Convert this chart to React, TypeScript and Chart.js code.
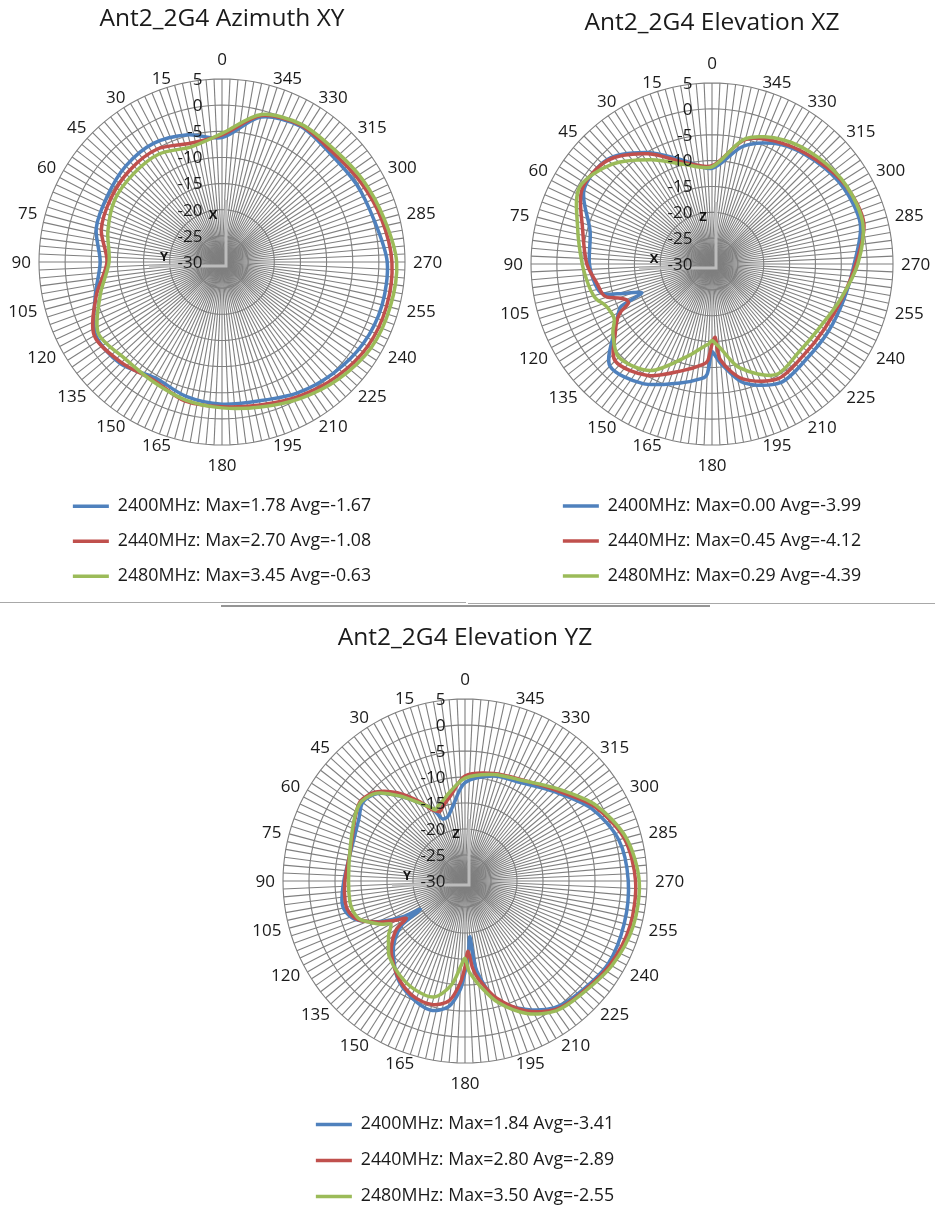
import React, { useEffect, useRef } from 'react';
import { Chart, registerables } from 'chart.js';

Chart.register(...registerables);

const FONT = "'Open Sans', 'DejaVu Sans', sans-serif";
const TEXT = '#1a1a1a';
const GRID = '#7f7f7f';
const COLORS = ['#4F81BD', '#C0504D', '#9BBB59'];

const SERIES_NAMES = ['2400MHz', '2440MHz', '2480MHz'];
const TICK_VALUES = [-30, -25, -20, -15, -10, -5, 0, 5];
const SPOKE_STEP = 2.5;
const SPOKE_COUNT = 144;
const LABEL_STEP = 15;
// spokes in clockwise screen order; angles increase counter-clockwise
const SPOKE_LABELS = Array.from({ length: SPOKE_COUNT }, (_, i) => String((360 - i * SPOKE_STEP) % 360));

// ---------- Azimuth XY ----------
const xyAngles = [0, 15, 30, 45, 60, 75, 90, 105, 120, 135, 150, 165, 180, 195, 210, 225, 240, 255, 270, 285, 300, 315, 330, 345];
const xy2400 = [-6.2, -4.8, -3.8, -4.0, -4.7, -5.1, -6.7, -4.9, -2.1, -2.5, -4.4, -3.4, -2.8, -2.5, -1.1, 0.1, 1.2, 1.7, 1.6, 0.2, -0.3, -0.7, 0.0, -1.3];
const xy2440 = [-5.7, -6.5, -5.1, -5.1, -5.5, -6.1, -8.0, -5.1, -1.8, -2.8, -3.9, -2.5, -2.3, -1.7, -0.4, 1.0, 2.2, 2.6, 2.5, 1.6, 0.6, -0.2, 0.2, -1.0];
const xy2480 = [-5.4, -7.2, -6.1, -6.1, -6.3, -7.4, -8.4, -5.9, -2.7, -3.8, -3.6, -2.7, -2.1, -1.3, 0.1, 1.6, 2.9, 3.3, 3.4, 2.1, 1.2, 0.4, 0.4, -0.8];
const xyMax = [1.78, 2.7, 3.45];
const xyAvg = [-1.67, -1.08, -0.63];

// ---------- Elevation XZ ----------
const xzAngles = [0, 15, 30, 45, 60, 75, 90, 100, 105, 107.5, 110, 112.5, 115, 117.5, 120, 125, 135, 150, 165, 175, 177.5, 180, 182.5, 185, 195, 210, 225, 240, 255, 270, 285, 300, 315, 330, 345];
const xz2400 = [-11.5, -9.3, -5.1, -1.4, -1.4, -5.6, -6.3, -7.1, -8.0, -10.8, -13.9, -15.3, -10.6, -9.6, -8.8, -6.8, -2.1, -3.3, -6.2, -7.8, -8.7, -13.0, -12.0, -10.7, -6.2, -3.5, -4.1, -4.0, -3.6, -2.5, -0.3, -0.6, -1.8, -3.3, -6.4];
const xz2440 = [-11.0, -9.7, -5.4, -1.6, -1.0, -4.1, -5.8, -7.5, -8.0, -8.7, -10.8, -12.0, -12.2, -10.2, -8.9, -7.2, -3.5, -5.1, -8.7, -10.5, -11.3, -14.5, -15.8, -11.4, -7.0, -4.4, -5.0, -4.9, -4.0, -2.2, 0.4, 0.0, -1.5, -3.0, -5.1];
const xz2480 = [-11.2, -10.1, -6.7, -2.7, -0.4, -3.1, -4.9, -5.8, -6.3, -6.8, -7.6, -8.1, -8.3, -8.4, -8.2, -6.6, -4.5, -6.2, -11.5, -14.1, -14.5, -15.2, -14.6, -13.9, -9.2, -5.3, -6.1, -5.8, -4.2, -1.8, 0.2, 0.1, -0.9, -2.3, -4.9];
const xzMax = [0.0, 0.45, 0.29];
const xzAvg = [-3.99, -4.12, -4.39];

// ---------- Elevation YZ ----------
const yzAngles = [0, 10, 15, 20, 22.5, 25, 30, 37.5, 45, 52.5, 60, 75, 90, 100, 105, 110, 115, 117.5, 120, 122.5, 125, 130, 135, 145, 155, 165, 172.5, 177.5, 180, 182.5, 185, 187.5, 195, 205, 215, 225, 240, 255, 270, 285, 300, 315, 330, 345];
const yz2400 = [-11.1, -15.7, -17.2, -17.3, -15.9, -14.5, -12.7, -9.4, -6.2, -5.2, -6.4, -7.3, -6.7, -6.0, -6.4, -8.0, -11.5, -13.8, -16.3, -19.8, -15.2, -12.4, -10.5, -7.3, -5.4, -4.3, -5.6, -9.1, -12.5, -15.8, -19.2, -12.5, -6.3, -2.8, -0.2, 0.7, 1.8, 1.7, 1.4, 0.6, -2.0, -5.7, -8.2, -9.1];
const yz2440 = [-9.8, -13.5, -14.7, -15.8, -15.4, -14.8, -12.3, -8.6, -5.8, -4.7, -5.6, -7.2, -6.9, -6.6, -6.9, -8.2, -11.3, -13.1, -15.0, -16.6, -14.0, -11.7, -10.0, -7.5, -5.8, -5.4, -6.8, -10.5, -13.5, -16.5, -13.2, -11.2, -6.7, -2.5, 0.2, 1.0, 2.2, 2.9, 2.8, 1.7, -1.3, -5.3, -7.6, -8.6];
const yz2480 = [-10.2, -12.7, -13.9, -14.7, -15.2, -14.4, -12.7, -9.4, -6.1, -4.9, -5.5, -7.1, -7.6, -7.5, -7.7, -8.5, -10.8, -12.0, -13.5, -13.0, -12.1, -10.8, -9.4, -8.0, -7.0, -6.9, -9.8, -13.8, -15.1, -12.6, -11.3, -9.9, -5.9, -1.9, 0.5, 1.2, 2.6, 3.5, 3.5, 2.1, -0.9, -4.9, -7.7, -8.8];
const yzMax = [1.84, 2.8, 3.5];
const yzAvg = [-3.41, -2.89, -2.55];

// ---------- layout (positions / sizes only) ----------
type Layout = {
  left: number; top: number; width: number; height: number;
  padLeft: number; padRight: number; padBottom: number;
  titleTop: number; titleBottom: number;
  legendTitlePad: number; legendPad: number;
};

const LAYOUT_XY: Layout = { left: 0, top: 0, width: 467, height: 600, padLeft: 39, padRight: 62, padBottom: 4.9, titleTop: 4.3, titleBottom: 45.3, legendTitlePad: 10.25, legendPad: 17.2 };
const LAYOUT_XZ: Layout = { left: 467, top: 0, width: 468, height: 600, padLeft: 64, padRight: 42, padBottom: 5.0, titleTop: 8, titleBottom: 45.6, legendTitlePad: 10.1, legendPad: 17.2 };
const LAYOUT_YZ: Layout = { left: 0, top: 607, width: 935, height: 610, padLeft: 283, padRight: 288, padBottom: 1.7, titleTop: 16.3, titleBottom: 46.3, legendTitlePad: 9.75, legendPad: 18.2 };

function toSlots(angles: number[], values: number[]) {
  const arr: (number | null)[] = new Array(SPOKE_COUNT).fill(null);
  angles.forEach((a, k) => {
    const idx = Math.round(((360 - a) % 360) / SPOKE_STEP) % SPOKE_COUNT;
    arr[idx] = values[k];
  });
  return arr;
}

type Spec = {
  title: string;
  angles: number[];
  series: number[][];
  maxes: number[];
  avgs: number[];
  upLetter: string;
  leftLetter: string;
  layout: Layout;
};

function PolarChart({ spec }: { spec: Spec }) {
  const ref = useRef<HTMLCanvasElement>(null);
  useEffect(() => {
    const canvas = ref.current;
    if (!canvas) return;
    const L = spec.layout;

    const overlay = {
      id: 'polarOverlay',
      beforeDatasetsDraw(chart: any) {
        const s = chart.scales.r;
        const ctx = chart.ctx;
        const cx = s.xCenter;
        const cy = s.yCenter;
        ctx.save();
        // axis indicator
        ctx.strokeStyle = 'rgba(192,192,192,0.95)';
        ctx.lineWidth = 3;
        ctx.beginPath();
        ctx.moveTo(cx + 4, cy - 62);
        ctx.lineTo(cx + 4, cy + 4);
        ctx.lineTo(cx - 73, cy + 4);
        ctx.stroke();
        ctx.fillStyle = '#111';
        ctx.font = `bold 13px ${FONT}`;
        ctx.textAlign = 'center';
        ctx.textBaseline = 'middle';
        ctx.fillText(spec.upLetter, cx - 9, cy - 47);
        ctx.fillText(spec.leftLetter, cx - 58, cy - 5);
        // point labels
        ctx.fillStyle = TEXT;
        ctx.font = `17px ${FONT}`;
        const R = s.drawingArea;
        for (let i = 0; i < SPOKE_COUNT; i++) {
          const deg = i * SPOKE_STEP;
          if (deg % LABEL_STEP !== 0) continue;
          const rim = s.getPointPosition(i, R);
          const phi = (deg * Math.PI) / 180;
          const sn = Math.sin(phi);
          const cs = Math.cos(phi);
          const lbl = SPOKE_LABELS[i];
          if (Math.abs(sn) < 0.01) {
            ctx.textAlign = 'center';
            ctx.fillText(lbl, rim.x, rim.y + (cs > 0 ? -20 : 20) + 1);
          } else {
            ctx.textAlign = sn > 0 ? 'left' : 'right';
            ctx.fillText(lbl, rim.x + Math.sign(sn) * (2 + 6 * Math.abs(sn)), rim.y - cs * 7 + 1);
          }
        }
        ctx.restore();
      },
      afterDatasetsDraw(chart: any) {
        const s = chart.scales.r;
        const ctx = chart.ctx;
        ctx.save();
        ctx.fillStyle = TEXT;
        ctx.font = `17px ${FONT}`;
        ctx.textAlign = 'right';
        ctx.textBaseline = 'middle';
        TICK_VALUES.forEach((v) => {
          const p = s.getPointPositionForValue(0, v);
          ctx.fillText(String(v), s.xCenter - 19.5, p.y + 1);
        });
        ctx.restore();
      },
    };

    const chart = new Chart(canvas, {
      type: 'radar',
      data: {
        labels: SPOKE_LABELS,
        datasets: spec.series.map((vals, k) => ({
          label: `${SERIES_NAMES[k]}: Max=${spec.maxes[k].toFixed(2)} Avg=${spec.avgs[k].toFixed(2)}`,
          data: toSlots(spec.angles, vals),
          borderColor: COLORS[k],
          backgroundColor: COLORS[k],
          borderWidth: 3.5,
          pointRadius: 0,
          pointHoverRadius: 0,
          fill: false,
          spanGaps: true,
          tension: 0.3,
          borderCapStyle: 'round',
          borderJoinStyle: 'round',
          order: 2 - k,
        })),
      } as any,
      options: {
        responsive: false,
        maintainAspectRatio: false,
        animation: false,
        events: [],
        layout: { padding: { left: L.padLeft, right: L.padRight, top: 0, bottom: L.padBottom } },
        plugins: {
          title: {
            display: true,
            text: spec.title,
            color: TEXT,
            font: { family: FONT, size: 24.5, weight: 'normal' },
            padding: { top: L.titleTop, bottom: L.titleBottom },
          },
          legend: {
            position: 'bottom',
            title: { display: true, text: '', font: { size: 12 }, padding: L.legendTitlePad },
            labels: {
              usePointStyle: true,
              pointStyle: 'line',
              pointStyleWidth: 36,
              padding: L.legendPad,
              color: TEXT,
              font: { family: FONT, size: 17.8 },
              sort: (a: any, b: any) => a.datasetIndex - b.datasetIndex,
            },
          },
          tooltip: { enabled: false },
        },
        scales: {
          r: {
            min: -30,
            max: 5,
            ticks: { display: false, stepSize: 5 },
            pointLabels: { display: false },
            grid: { color: GRID, lineWidth: 1.1, circular: false },
            angleLines: { display: true, color: GRID, lineWidth: 1.1 },
          },
        },
      } as any,
      plugins: [overlay],
    });
    return () => chart.destroy();
  }, [spec]);

  const L = spec.layout;
  return (
    <canvas
      ref={ref}
      width={L.width}
      height={L.height}
      style={{ position: 'absolute', left: L.left, top: L.top, width: L.width, height: L.height }}
    />
  );
}

const SPEC_XY: Spec = { title: 'Ant2_2G4 Azimuth XY', angles: xyAngles, series: [xy2400, xy2440, xy2480], maxes: xyMax, avgs: xyAvg, upLetter: 'X', leftLetter: 'Y', layout: LAYOUT_XY };
const SPEC_XZ: Spec = { title: 'Ant2_2G4 Elevation XZ', angles: xzAngles, series: [xz2400, xz2440, xz2480], maxes: xzMax, avgs: xzAvg, upLetter: 'Z', leftLetter: 'X', layout: LAYOUT_XZ };
const SPEC_YZ: Spec = { title: 'Ant2_2G4 Elevation YZ', angles: yzAngles, series: [yz2400, yz2440, yz2480], maxes: yzMax, avgs: yzAvg, upLetter: 'Z', leftLetter: 'Y', layout: LAYOUT_YZ };

export default function App() {
  return (
    <div style={{ position: 'absolute', left: 0, top: 0, width: 935, height: 1217, background: '#fff', overflow: 'hidden' }}>
      <PolarChart spec={SPEC_XY} />
      <PolarChart spec={SPEC_XZ} />
      <div style={{ position: 'absolute', left: 0, top: 602, width: 466, height: 1, background: '#a8a8a8' }} />
      <div style={{ position: 'absolute', left: 468, top: 603, width: 467, height: 1, background: '#a8a8a8' }} />
      <div style={{ position: 'absolute', left: 221, top: 605, width: 489, height: 2, background: '#959595' }} />
      <PolarChart spec={SPEC_YZ} />
    </div>
  );
}
